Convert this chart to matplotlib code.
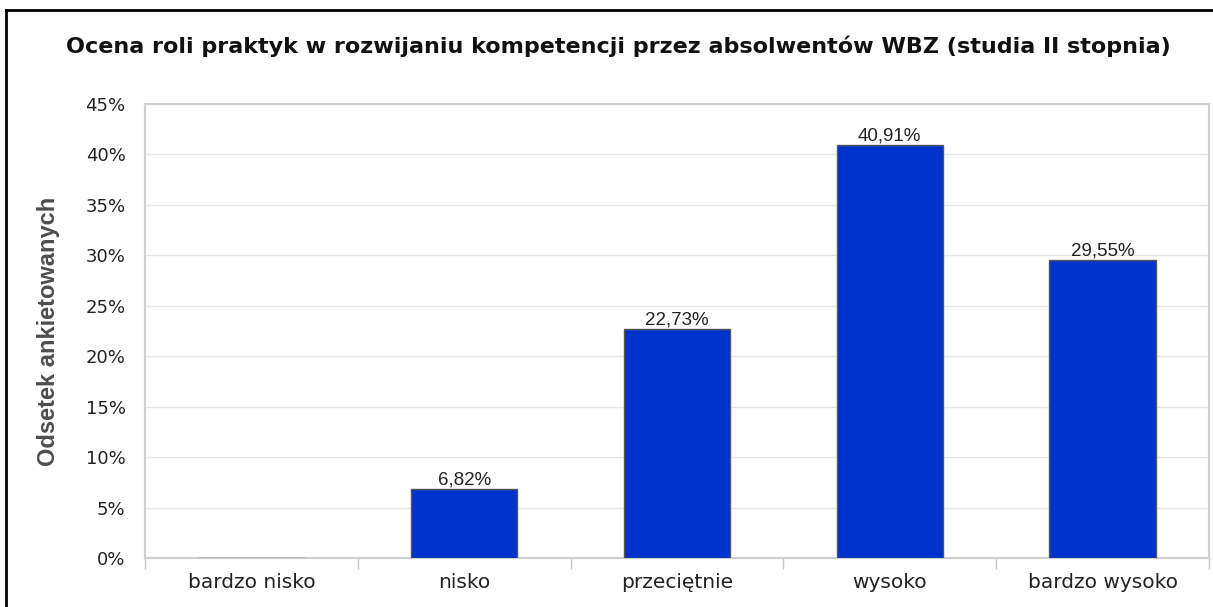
import matplotlib.pyplot as plt
from matplotlib.lines import Line2D
from matplotlib.ticker import PercentFormatter
import numpy as np

# Data
categories = ["bardzo nisko", "nisko", "przeciętnie", "wysoko", "bardzo wysoko"]
values = [0.0, 6.82, 22.73, 40.91, 29.55]
y_ticks = [0, 5, 10, 15, 20, 25, 30, 35, 40, 45]

title = "Ocena roli praktyk w rozwijaniu kompetencji przez absolwentów WBZ (studia II stopnia)"
y_label = "Odsetek ankietowanych"

W, H = 1213, 607
fig = plt.figure(figsize=(W / 100, H / 100), dpi=100)
ax = fig.add_axes([145 / W, 1 - 558 / H, (1209 - 145) / W, (558 - 104) / H])

x = np.arange(len(categories))
ax.bar(x, values, width=0.5, color="#0033cc", edgecolor="#555555", linewidth=1, zorder=3)

# value labels above bars
for xi, v in zip(x, values):
    if v > 0:
        ax.text(xi, v + 0.05, f"{v:.2f}%".replace(".", ","), ha="center", va="bottom",
                fontsize=13.5, family=["Liberation Sans", "DejaVu Sans"], color="#222222")

ax.set_xlim(-0.5, len(categories) - 0.5)
ax.set_ylim(0, 45)
ax.set_yticks(y_ticks)
ax.yaxis.set_major_formatter(PercentFormatter(decimals=0))
ax.grid(axis="y", color="#e6e6e6", linewidth=1, zorder=0)

ax.set_xticks(x)
ax.set_xticklabels(categories)
ax.set_xticks(np.arange(len(categories) + 1) - 0.5, minor=True)
ax.tick_params(axis="x", which="major", length=0, pad=11, labelsize=14.5, colors="#222222")
ax.tick_params(axis="x", which="minor", length=8, color="#c8c8c8", width=1)
ax.tick_params(axis="y", length=0, pad=14, labelsize=13, colors="#222222")

for s in ax.spines.values():
    s.set_color("#cfcfcf")
    s.set_linewidth(1.5)

ax.set_ylabel(y_label, fontsize=17, fontweight="bold", color="#4d4d4d", labelpad=18,
              family=["Liberation Sans", "DejaVu Sans"])

fig.text(618 / W, 1 - 46 / H, title, ha="center", va="center", fontsize=16,
         fontweight="bold", color="#111111")

# black frame on top and left
fig.add_artist(Line2D([6 / W, 1], [1 - 10 / H, 1 - 10 / H], color="black", linewidth=2))
fig.add_artist(Line2D([6 / W, 6 / W], [0, 1 - 10 / H], color="black", linewidth=2))

fig.savefig("out.png", dpi=100)
